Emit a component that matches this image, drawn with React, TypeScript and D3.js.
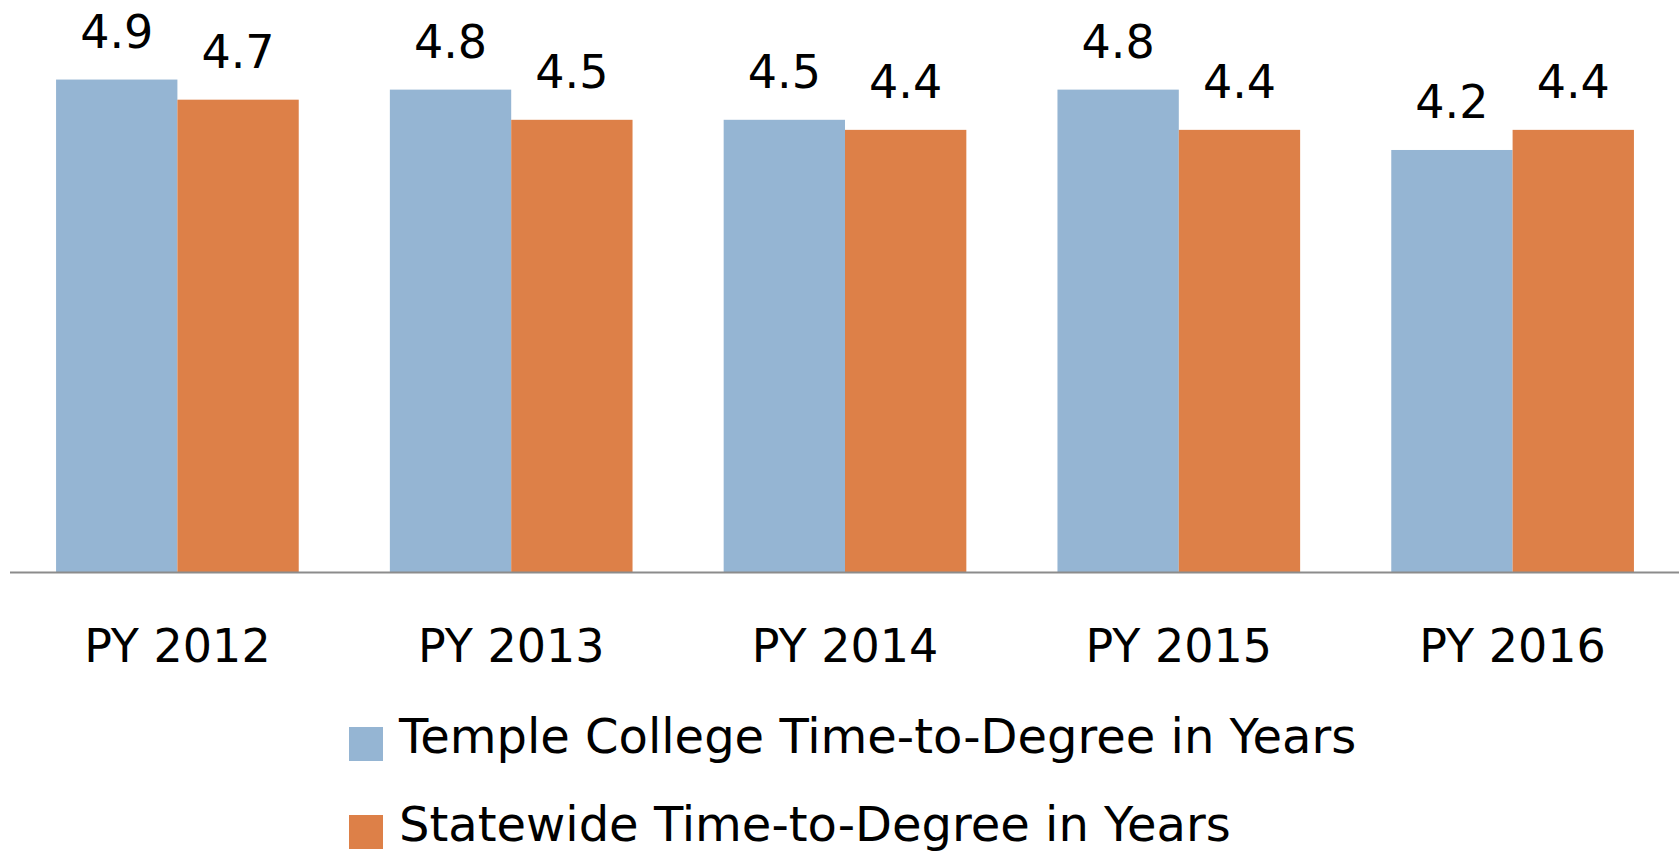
import React from 'react';
import * as d3 from 'd3';

const years = ['PY 2012', 'PY 2013', 'PY 2014', 'PY 2015', 'PY 2016'];
const temple = [4.9, 4.8, 4.5, 4.8, 4.2];
const statewide = [4.7, 4.5, 4.4, 4.4, 4.4];
const seriesNames = ['Temple College Time-to-Degree in Years', 'Statewide Time-to-Degree in Years'];
const seriesColors = ['#95B5D3', '#DD8048'];

const width = 1679;
const height = 851;
const baseline = 572.5;
const font = '"DejaVu Sans", Verdana, sans-serif';

export default function App() {
  const x = d3.scaleBand<string>()
    .domain(years)
    .range([10.5, 1679.5])
    .paddingInner(0.273)
    .paddingOuter(0.1365);
  const inner = d3.scaleBand<number>()
    .domain([0, 1])
    .range([0, x.bandwidth()]);
  const y = d3.scaleLinear().domain([0, 5]).range([baseline, baseline - 503]);

  const series = [temple, statewide];

  return (
    <svg width={width} height={height} style={{ position: 'absolute', left: 0, top: 0, background: '#fff' }}>
      {years.map((yr, i) => (
        <g key={yr} transform={`translate(${x(yr)},0)`}>
          {series.map((vals, s) => {
            const bx = inner(s)!;
            const by = y(vals[i]);
            return (
              <g key={s}>
                <rect x={bx} y={by} width={inner.bandwidth()} height={baseline - by} fill={seriesColors[s]} />
                <text x={bx + inner.bandwidth() / 2} y={by - 32} textAnchor="middle"
                  fontFamily={font} fontSize={46} fill="#000">
                  {d3.format('.1f')(vals[i])}
                </text>
              </g>
            );
          })}
          <text x={x.bandwidth() / 2} y={661.5} textAnchor="middle" fontFamily={font} fontSize={46} fill="#000">
            {yr}
          </text>
        </g>
      ))}
      <line x1={10} x2={width} y1={baseline} y2={baseline} stroke="#8c8c8c" strokeWidth={2} />
      {seriesNames.map((name, s) => (
        <g key={name} transform={`translate(349,${727 + s * 88})`}>
          <rect x={0} y={0} width={34} height={34} fill={seriesColors[s]} />
          <text x={50} y={26} fontFamily={font} fontSize={48} fill="#000">{name}</text>
        </g>
      ))}
    </svg>
  );
}
